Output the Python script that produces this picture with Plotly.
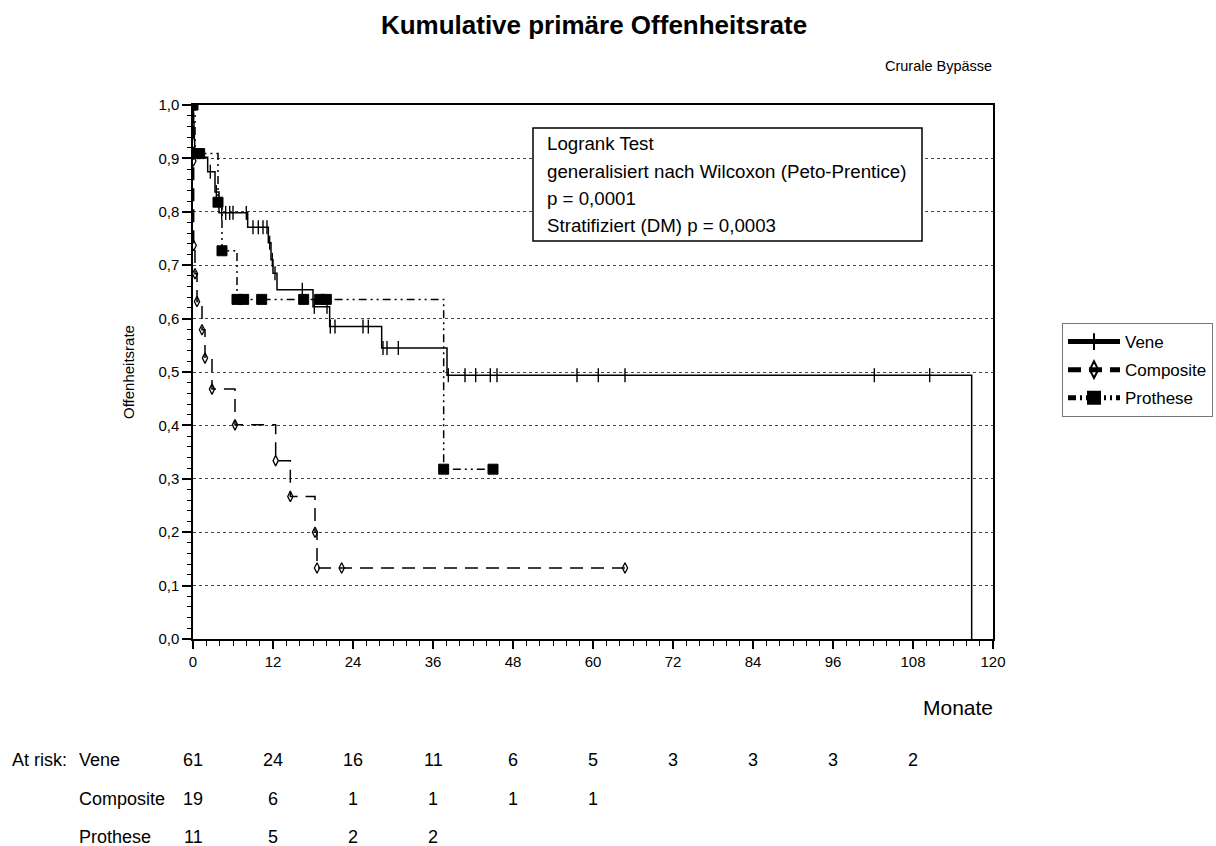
import plotly.graph_objects as go

# ---------------- data ----------------
vene_event_t = [0, 0.05, 0.1, 0.15, 0.2, 0.25, 0.3, 2.2, 3.3, 3.9, 8.2, 11.3, 11.7, 12.0, 12.6, 18.0, 20.5, 28.3, 38.1, 116.8]
vene_event_s = [1.0, 0.984, 0.967, 0.951, 0.934, 0.918, 0.902, 0.875, 0.837, 0.798, 0.771, 0.742, 0.71, 0.685, 0.654, 0.622, 0.585, 0.545, 0.494, 0.0]
vene_censor_t = [2.6, 3.5, 4.3, 4.9, 5.5, 6.0, 8.0, 9.0, 9.8, 10.5, 11.1, 11.5, 11.9, 12.3,
                 16.4, 18.2, 20.1, 20.6, 21.3, 25.5, 26.3, 28.5, 29.1, 30.8,
                 38.3, 40.8, 42.4, 44.6, 45.6, 57.6, 60.8, 64.8, 102.2, 110.5]

comp_event_t = [0, 0.05, 0.1, 0.3, 0.6, 1.35, 1.8, 2.85, 6.3, 12.4, 14.6, 18.3, 18.6]
comp_event_s = [1.0, 0.895, 0.737, 0.684, 0.632, 0.579, 0.526, 0.468, 0.401, 0.334, 0.267, 0.2, 0.133]
comp_censor_t = [22.3, 64.8]

pro_event_t = [0, 0.3, 3.75, 4.35, 6.6, 37.6]
pro_event_s = [1.0, 0.909, 0.818, 0.727, 0.636, 0.318]
pro_censor_t = [1.0, 7.6, 10.3, 16.6, 19.0, 20.0, 45.0]

risk_months = [0, 12, 24, 36, 48, 60, 72, 84, 96, 108]
vene_risk = [61, 24, 16, 11, 6, 5, 3, 3, 3, 2]
comp_risk = [19, 6, 1, 1, 1, 1]
pro_risk = [11, 5, 2, 2]

FONT = "Arial, Liberation Sans, sans-serif"


def step_value(ts, ss, t):
    v = ss[0]
    for tt, s in zip(ts, ss):
        if tt <= t:
            v = s
    return v


def build(ev_t, ev_s, cen_t, ev_marker, size, skip_first=True):
    pts = []
    for i, (t, s) in enumerate(zip(ev_t, ev_s)):
        show = ev_marker and not (skip_first and i == 0)
        pts.append((t, 0, s, size if show else 0))
    for t in cen_t:
        pts.append((t, 1, step_value(ev_t, ev_s, t), size))
    pts.sort(key=lambda p: (p[0], p[1]))
    return [p[0] for p in pts], [p[2] for p in pts], [p[3] for p in pts]


fig = go.Figure()

x, y, sz = build(vene_event_t, vene_event_s, vene_censor_t, False, 10)
fig.add_trace(go.Scatter(
    x=x, y=y, mode="lines+markers", name="Vene", line_shape="hv", legendgroup="v",
    line=dict(color="black", width=1.5),
    marker=dict(symbol="line-ns", size=sz, color="black", opacity=1,
                line=dict(color="black", width=1.4)),
))

x, y, sz = build(comp_event_t, comp_event_s, comp_censor_t, True, 7.5)
fig.add_trace(go.Scatter(
    x=x, y=y, mode="lines+markers", name="Composite", line_shape="hv", legendgroup="c",
    line=dict(color="black", width=1.5, dash="13px,8px"),
    marker=dict(symbol="diamond-tall-open", size=sz, color="black", opacity=1,
                line=dict(color="black", width=1.3)),
))

x, y, sz = build(pro_event_t, pro_event_s, pro_censor_t, True, 10, skip_first=False)
fig.add_trace(go.Scatter(
    x=x, y=y, mode="lines+markers", name="Prothese", line_shape="hv", legendgroup="p",
    line=dict(color="black", width=1.5, dash="8px,4px,2px,4px,2px,4px"),
    marker=dict(symbol="square", size=sz, color="black", opacity=1,
                line=dict(color="black", width=1)),
))

# ---------------- layout helpers ----------------
L, R, T, B = 193, 993, 105, 639


def px_x(px):
    return (px - L) / (R - L)


def px_y(py):
    return (B - py) / (B - T)


annotations = []
annotations.append(dict(text="Crurale Bypässe", x=px_x(994), y=px_y(66), xref="paper", yref="paper",
                        xanchor="right", yanchor="middle", showarrow=False,
                        font=dict(family=FONT, size=14.5, color="black")))
annotations.append(dict(text="Monate", x=px_x(995), y=px_y(707), xref="paper", yref="paper",
                        xanchor="right", yanchor="middle", showarrow=False,
                        font=dict(family=FONT, size=21, color="black")))
log_lines = ["Logrank Test", "generalisiert nach Wilcoxon (Peto-Prentice)", "p = 0,0001",
             "Stratifiziert (DM) p = 0,0003"]
for i, line in enumerate(log_lines):
    annotations.append(dict(text=line, x=px_x(545), y=px_y(144 + 27.3 * i), xref="paper", yref="paper",
                            xanchor="left", yanchor="middle", showarrow=False,
                            font=dict(family=FONT, size=18.7, color="black")))

row_y = [760, 799, 837]
annotations.append(dict(text="At risk:", x=px_x(10), y=px_y(row_y[0]), xref="paper", yref="paper",
                        xanchor="left", yanchor="middle", showarrow=False,
                        font=dict(family=FONT, size=18, color="black")))
for name, vals, ry in zip(["Vene", "Composite", "Prothese"], [vene_risk, comp_risk, pro_risk], row_y):
    annotations.append(dict(text=name, x=px_x(77), y=px_y(ry), xref="paper", yref="paper",
                            xanchor="left", yanchor="middle", showarrow=False,
                            font=dict(family=FONT, size=18, color="black")))
    for m, v in zip(risk_months, vals):
        annotations.append(dict(text=str(v), x=m, y=px_y(ry), xref="x", yref="paper",
                                xanchor="center", yanchor="middle", showarrow=False,
                                font=dict(family=FONT, size=18, color="black")))

shapes = [dict(type="rect", xref="paper", yref="paper",
               x0=px_x(533), x1=px_x(922), y0=px_y(128), y1=px_y(241),
               line=dict(color="black", width=1.5), fillcolor="white", layer="above")]

fig.update_layout(
    width=1216, height=846,
    margin=dict(l=L, r=1216 - R, t=T, b=846 - B, autoexpand=False),
    paper_bgcolor="white", plot_bgcolor="white",
    separators=", ",
    font=dict(family=FONT, size=15, color="black"),
    title=dict(text="<b>Kumulative primäre Offenheitsrate</b>", x=594 / 1216, xanchor="center",
               y=1 - 25 / 846, yanchor="middle", font=dict(family=FONT, size=26, color="black")),
    showlegend=True,
    legend=dict(x=px_x(1062), y=px_y(323), xanchor="left", yanchor="top",
                bordercolor="#777777", borderwidth=1, bgcolor="white",
                font=dict(family=FONT, size=17, color="black"),
                itemsizing="constant", tracegroupgap=3, itemwidth=52),
    annotations=annotations,
    shapes=shapes,
)

fig.update_xaxes(
    range=[0, 120], tickmode="linear", tick0=0, dtick=12,
    showline=True, linecolor="black", linewidth=1.5, mirror=True,
    ticks="outside", ticklen=8, tickwidth=1.5, tickcolor="black",
    minor=dict(dtick=2, ticks="outside", ticklen=5, tickwidth=1, tickcolor="black"),
    showgrid=False, zeroline=False,
    tickfont=dict(family=FONT, size=15, color="black"),
)
fig.update_yaxes(
    range=[0, 1], tickmode="linear", tick0=0, dtick=0.1, tickformat=".1f",
    showline=True, linecolor="black", linewidth=1.5, mirror=True,
    ticks="outside", ticklen=9, tickwidth=1.5, tickcolor="black",
    minor=dict(dtick=0.02, ticks="outside", ticklen=4, tickwidth=1, tickcolor="black", showgrid=False),
    showgrid=True, gridcolor="#444444", griddash="3px,3px", gridwidth=1,
    zeroline=False,
    title=dict(text="Offenheitsrate", font=dict(family=FONT, size=15, color="black"), standoff=20),
    tickfont=dict(family=FONT, size=15, color="black"),
)

fig.write_html("out.html")
